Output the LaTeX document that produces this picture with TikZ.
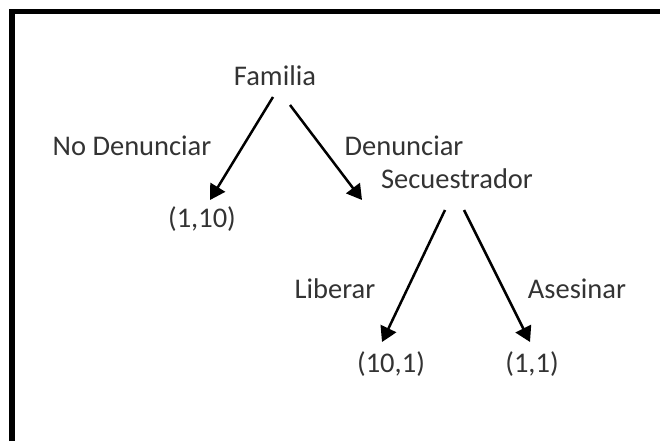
\documentclass[tikz,border=0pt]{standalone}
\usepackage{fontspec}
\setmainfont{Carlito}
\usetikzlibrary{arrows.meta}

\begin{document}
\begin{tikzpicture}[x=1pt,y=-1pt,
  flecha/.style={line width=2.5pt,-{Triangle[length=15pt,width=17pt]}},
  texto/.style={anchor=base,inner sep=0pt,text=black!80,
    font=\fontsize{28.5}{30}\selectfont}]
  \useasboundingbox (0,0) rectangle (660,441);
  % marco
  \draw[line width=5.5pt] (11.75,441) -- (11.75,11.75) -- (660,11.75);

  \node[texto] (familia) at (275,85) {Familia};
  \node[texto] (nodenunciar) at (132,155) {No Denunciar};
  \node[texto] (denunciar) at (404,155) {Denunciar};
  \node[texto] (p110) at (202,227) {(1,10)};
  \node[texto] (secuestrador) at (457,188) {Secuestrador};
  \node[texto] (liberar) at (335,298) {Liberar};
  \node[texto] (asesinar) at (577,298) {Asesinar};
  \node[texto] (p101) at (391,372) {(10,1)};
  \node[texto] (p11) at (532,372) {(1,1)};

  \draw[flecha] ([xshift=-2pt,yshift=-12pt]familia.base)
    -- ([xshift=8pt,yshift=27pt]p110.base);
  \draw[flecha] ([xshift=15pt,yshift=-20pt]familia.base)
    -- ([xshift=-95pt,yshift=-12pt]secuestrador.base);
  \draw[flecha] ([xshift=-12pt,yshift=-22pt]secuestrador.base)
    -- ([xshift=-9pt,yshift=30pt]p101.base);
  \draw[flecha] ([xshift=7pt,yshift=-22pt]secuestrador.base)
    -- ([xshift=-2pt,yshift=30pt]p11.base);
\end{tikzpicture}
\end{document}
